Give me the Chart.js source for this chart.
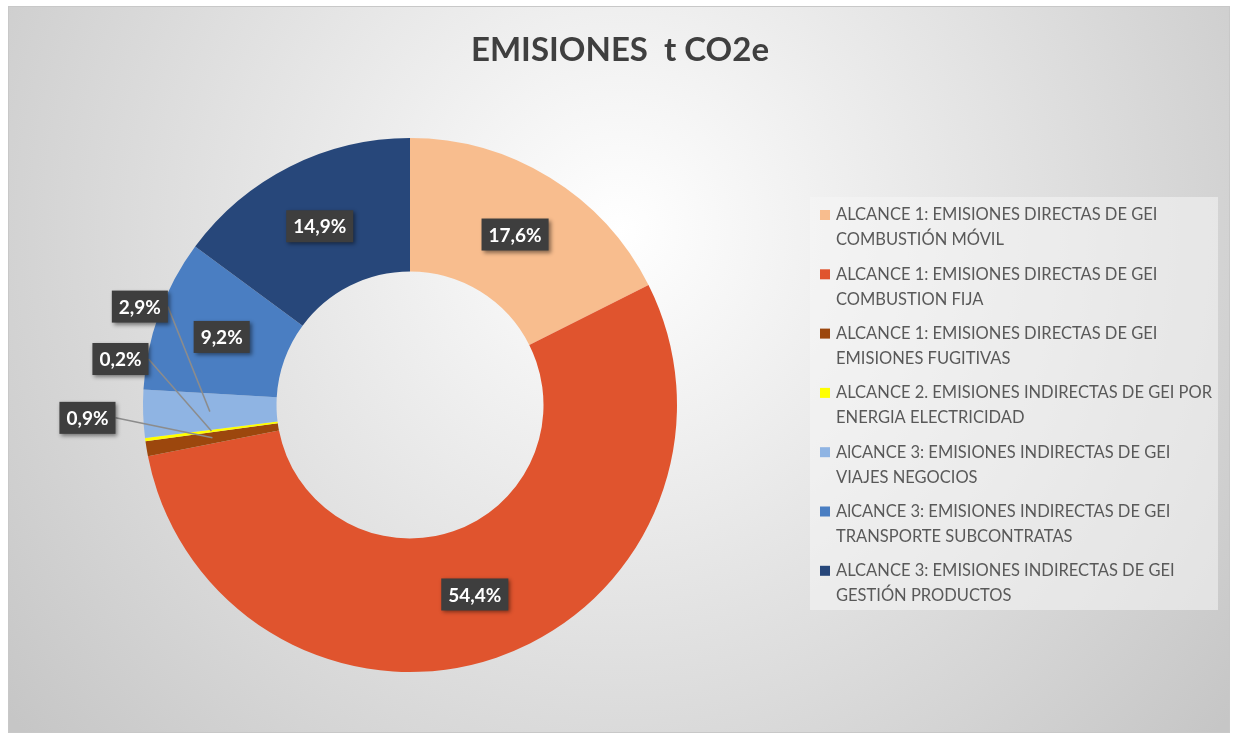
<!DOCTYPE html>
<html>
<head>
<meta charset="utf-8">
<script src="https://cdn.jsdelivr.net/npm/chart.js@4"></script>
<style>
  html, body { margin: 0; padding: 0; background: #fff; }
  canvas { display: block; }
</style>
</head>
<body>
<canvas id="co2Chart" width="1235" height="735"></canvas>
<script>
// datos del gráfico
const categories = [
  ['ALCANCE 1: EMISIONES DIRECTAS DE GEI', 'COMBUSTIÓN MÓVIL'],
  ['ALCANCE 1: EMISIONES DIRECTAS DE GEI', 'COMBUSTION FIJA'],
  ['ALCANCE 1: EMISIONES DIRECTAS DE GEI', 'EMISIONES FUGITIVAS'],
  ['ALCANCE 2. EMISIONES INDIRECTAS DE GEI POR', 'ENERGIA ELECTRICIDAD'],
  ['AlCANCE 3: EMISIONES INDIRECTAS DE GEI', 'VIAJES NEGOCIOS'],
  ['AlCANCE 3: EMISIONES INDIRECTAS DE GEI', 'TRANSPORTE SUBCONTRATAS'],
  ['ALCANCE 3: EMISIONES INDIRECTAS DE GEI', 'GESTIÓN PRODUCTOS']
];
const percentages = [17.6, 54.4, 0.9, 0.2, 2.9, 9.2, 14.9];
const sliceColors = ['#F8BD8E', '#E0542E', '#9C470D', '#FFFF00', '#8FB4E3', '#4A7EC2', '#27477A'];
const chartTitle = 'EMISIONES  t CO2e';

// etiquetas fuera del anillo: desplazamiento desde el centro del sector
const calloutOffsets = { 2: [-125, -20], 3: [-91, -72], 4: [-70, -105] };

const FONT = 'Lato, "Open Sans", sans-serif';

function fmt(v) {
  return v.toFixed(1).replace('.', ',') + '%';
}

// fondo, título y leyenda
const decorPlugin = {
  id: 'decor',
  beforeDraw(chart) {
    const ctx = chart.ctx;
    ctx.save();
    const g = ctx.createRadialGradient(620, 230, 0, 620, 230, 780);
    g.addColorStop(0, '#ffffff');
    g.addColorStop(1, '#c6c6c6');
    ctx.fillStyle = g;
    ctx.fillRect(8, 6, 1222, 727);
    ctx.strokeStyle = '#c8c8c8';
    ctx.lineWidth = 1;
    ctx.strokeRect(8.5, 6.5, 1221, 726);

    ctx.fillStyle = '#3f3f3f';
    ctx.font = 'bold 33px ' + FONT;
    ctx.textAlign = 'center';
    ctx.textBaseline = 'middle';
    ctx.fillText(chartTitle, 620, 50);

    // leyenda
    ctx.fillStyle = 'rgba(245,245,245,0.55)';
    ctx.fillRect(810, 197, 408, 413);
    ctx.font = '16.5px ' + FONT;
    ctx.textAlign = 'left';
    ctx.textBaseline = 'middle';
    categories.forEach((lines, i) => {
      const y = 215 + i * 59.3;
      ctx.fillStyle = sliceColors[i];
      ctx.fillRect(820, y - 5, 10, 10);
      ctx.fillStyle = '#595959';
      lines.forEach((t, j) => ctx.fillText(t, 836, y + j * 25));
    });
    ctx.restore();
  },
  afterDatasetsDraw(chart) {
    const ctx = chart.ctx;
    const arcs = chart.getDatasetMeta(0).data;
    ctx.save();
    ctx.font = 'bold 19px ' + FONT;
    ctx.textAlign = 'center';
    ctx.textBaseline = 'middle';
    // primero las líneas guía
    arcs.forEach((arc, i) => {
      const off = calloutOffsets[i];
      if (!off) return;
      const p = arc.getCenterPoint();
      const lx = p.x + off[0], ly = p.y + off[1];
      const w = ctx.measureText(fmt(percentages[i])).width + 14;
      ctx.strokeStyle = '#8c8c8c';
      ctx.lineWidth = 1.5;
      ctx.beginPath();
      ctx.moveTo(lx + w / 2, ly);
      ctx.lineTo(p.x, p.y);
      ctx.stroke();
    });
    arcs.forEach((arc, i) => {
      const p = arc.getCenterPoint();
      const off = calloutOffsets[i] || [0, 0];
      const lx = p.x + off[0], ly = p.y + off[1];
      const txt = fmt(percentages[i]);
      const w = ctx.measureText(txt).width + 14;
      const h = 32;
      ctx.save();
      ctx.shadowColor = 'rgba(0,0,0,0.45)';
      ctx.shadowBlur = 4;
      ctx.shadowOffsetX = 2;
      ctx.shadowOffsetY = 2;
      ctx.fillStyle = '#3e3e3e';
      ctx.fillRect(lx - w / 2, ly - h / 2, w, h);
      ctx.restore();
      ctx.fillStyle = '#ffffff';
      ctx.fillText(txt, lx, ly + 1);
    });
    ctx.restore();
  }
};

new Chart(document.getElementById('co2Chart'), {
  type: 'doughnut',
  data: {
    labels: categories,
    datasets: [{
      data: percentages,
      backgroundColor: sliceColors,
      borderWidth: 0
    }]
  },
  options: {
    responsive: false,
    animation: false,
    cutout: '50%',
    layout: { padding: { left: 143, right: 558, top: 138, bottom: 63 } },
    plugins: {
      legend: { display: false },
      title: { display: false },
      tooltip: { enabled: false }
    }
  },
  plugins: [decorPlugin]
});
</script>
</body>
</html>
